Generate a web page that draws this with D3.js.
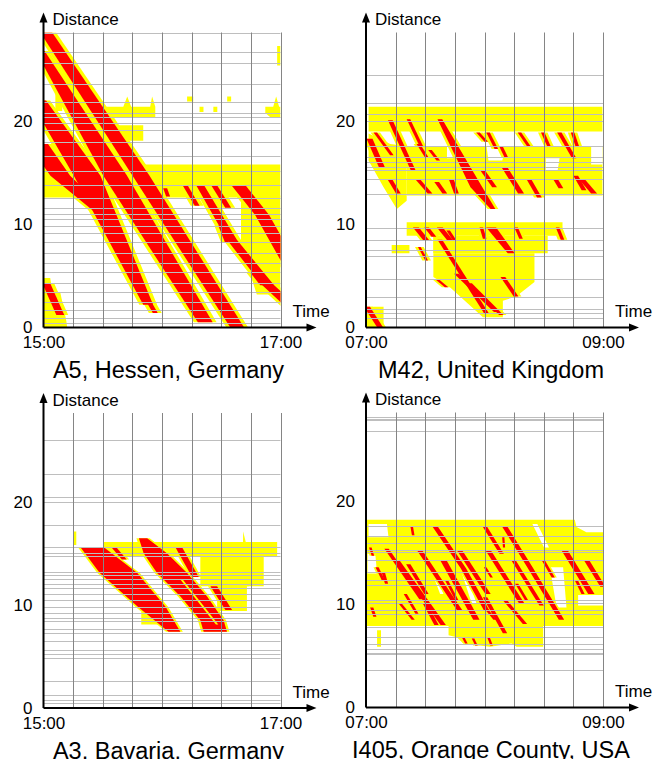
<!DOCTYPE html>
<html>
<head>
<meta charset="utf-8">
<script src="https://cdn.jsdelivr.net/npm/d3@7"></script>
<style>
  body { margin: 0; background: #fff; }
  svg { display: block; }
  text { font-family: "Liberation Sans", Arial, Helvetica, sans-serif; }
</style>
</head>
<body>
<svg id="chart" width="655" height="759"></svg>
<script>
// Space-time diagrams of congestion on four motorway stretches.
// Time in minutes after the start label, distance in km.
// Yellow = synchronized (slow) traffic, red = wide moving jams.

const panelTitles = ["A5, Hessen, Germany", "M42, United Kingdom", "A3, Bavaria, Germany", "I405, Orange County, USA"];
const startLabels = ["15:00", "07:00", "15:00", "07:00"];
const endLabels = ["17:00", "09:00", "17:00", "09:00"];
const distanceTicks = [0, 10, 20];
const gridMinutes = [15, 30, 45, 60, 75, 90, 105, 120];

// Detector positions (km) – horizontal grid lines
const a5Detectors = [28.6, 26.7, 25.6, 23.6, 21.9, 20.75, 20.4, 19.8, 19.1, 18.0, 16.6, 15.2, 13.8, 12.6, 11.6, 11.0, 10.5, 9.8, 9.2, 8.3, 7.2, 6.3, 5.4, 4.3, 3.4, 2.5, 1.7, 0.9, 0.4];
const m42Detectors = [24.5, 21.8, 20.7, 20.0, 17.6, 16.5, 16.0, 15.6, 15.3, 14.4, 12.9, 9.6, 8.5, 7.5, 6.9, 4.7, 3.0, 1.8, 1.4, 0.9];
const a3Detectors = [26.0, 22.7, 20.5, 20.0, 17.7, 15.6, 15.0, 14.7, 13.2, 12.9, 12.5, 12.0, 11.6, 11.1, 10.5, 9.8, 9.2, 8.7, 8.4, 7.7, 7.3, 6.5, 5.6, 5.2, 4.8, 2.6, 1.3, 0.8, 0.5];
const i405Detectors = [28.2, 28.0, 27.9, 26.8, 17.6, 16.6, 15.9, 15.3, 15.1, 14.3, 13.1, 12.4, 11.9, 10.4, 10.1, 9.5, 9.1, 7.8, 6.8, 6.2, 5.7, 5.3, 5.2, 3.6];

// Synchronized-flow regions: polygons of [minute, km]
const a5Congested = [
  [[0, 12.6], [120, 12.6], [120, 15.8], [0, 15.8]],
  [[100, 12.8], [120, 12.8], [120, 3.2], [108, 3.2], [100, 8]],
  [[28.7, 20.3], [28.7, 21.4], [40.4, 21.4], [42.4, 22.4], [44.4, 21.4], [54, 21.4], [55, 22.4], [56.6, 21.4], [56.6, 20.3]],
  [[72.7, 21.9], [75.8, 21.9], [75.8, 22.4], [72.7, 22.4]],
  [[79, 20.9], [81, 20.9], [81, 21.4], [79, 21.4]],
  [[86, 20.9], [88, 20.9], [88, 21.4], [86, 21.4]],
  [[93, 21.9], [95, 21.9], [95, 22.4], [93, 22.4]],
  [[112.3, 21.4], [116.3, 21.4], [117.8, 22.4], [119.3, 21.4], [120, 21.4], [120, 20.3], [115.3, 20.3], [112.3, 20.8]],
  [[23.7, 18.1], [50.5, 18.1], [50.5, 19.6], [23.7, 19.6]],
  [[118.3, 25.4], [120, 25.4], [120, 27.3], [118.3, 27.3]],
  [[0, 4.8], [3.4, 4.8], [4.4, 3.6], [8.5, 3.4], [11.5, 0.7], [12, 0], [0, 0]],
  [[6, 21], [9.5, 21], [9.5, 23.4], [6, 23.4]]
];
const m42Congested = [
  [[1.3, 19.0], [119.7, 19.0], [119.7, 21.4], [1.3, 21.4]],
  [[20.6, 12.8], [119.7, 12.8], [119.7, 17.6], [20.6, 17.6]],
  [[1.3, 18.8], [12.3, 17.8], [20.6, 17.6], [20.6, 12.3], [15.6, 11.5], [8.9, 13.6], [1.3, 16.2]],
  [[20.6, 8.9], [99.5, 8.9], [99.5, 10.2], [20.6, 10.2]],
  [[34, 7.2], [92, 7.2], [92, 8.9], [34, 8.9]],
  [[34.1, 7.2], [85.3, 7.2], [85.3, 4.4], [76, 3.0], [69.3, 2.6], [69.3, 1.0], [59.2, 1.0], [42.5, 3.9], [34.1, 4.9]],
  [[0, 0], [8.9, 0], [8.9, 2.0], [0, 2.0]],
  [[13, 7.2], [22, 7.2], [22, 8.0], [13, 8.0]]
];
const a3Congested = [
  [[30.4, 14.7], [118.3, 14.7], [118.3, 16.1], [30.4, 16.1]],
  [[79.4, 11.8], [111.5, 11.8], [111.5, 14.7], [79.4, 14.7]],
  [[101.1, 17.1], [103, 15.6], [104, 11.8], [100.6, 11.8]],
  [[87.9, 9.4], [103, 9.4], [103, 12.4], [87.9, 12.4]],
  [[15.2, 15.8], [16.6, 15.8], [16.6, 17.1], [15.2, 17.1]],
  [[49.5, 8.1], [58, 8.1], [58, 9.3], [49.5, 9.3]]
];
const i405Congested = [
  [[0.5, 18.2], [105.7, 18.2], [106.6, 17.5], [111.6, 17.0], [120, 17.0], [120, 7.9], [0.5, 7.9]],
  [[41.8, 7.9], [89.7, 7.9], [89.7, 5.9], [76.3, 5.9], [73.7, 6.2], [62.8, 5.9], [49.3, 6.2], [46.0, 6.8], [41.8, 7.0]],
  [[5.6, 5.9], [7.6, 5.9], [7.6, 7.5], [5.6, 7.5]]
];

// Free-flow pockets inside congested blocks
const m42Clear = [
  [[62, 16.2], [69, 16.2], [71, 17.6], [61, 17.6]],
  [[91, 15.2], [97, 15.2], [98, 16.4], [91, 16.4]],
  [[114, 15.8], [119.7, 15.8], [119.7, 17.6], [114, 17.6]],
  [[41, 16.4], [44, 16.4], [44, 17.6], [41, 17.6]]
];
const i405Clear = [
  [[93.1, 13.6], [99.8, 13.6], [101.5, 9.7], [96.5, 9.7]],
  [[0.8, 14.9], [4.7, 14.9], [5.6, 13.0], [0.8, 13.0]],
  [[1.3, 17.8], [10.6, 17.8], [11.4, 16.5], [1.3, 16.5]],
  [[107.4, 10.9], [120, 10.9], [120, 9.9], [107.4, 9.9]]
];
const i405ClearBands = [
  [[47.1, 14.6, 2.4], [54.7, 10.1, 2.4]],
  [[33.3, 13.6, 1.7], [38.4, 11.0, 1.7]],
  [[85.5, 17.8, 2.5], [91.4, 15.5, 2.5]]
];

// Wide moving jams: centre line points [minute, km, duration in minutes]
const a5Jams = [
  [[1.4, 28.6, 6], [49.4, 14.7, 8.6], [98.1, 0, 7]],
  [[-1.7, 26.8, 4.5], [36.3, 14.7, 12], [81.9, 0.5, 7.5]],
  [[-2.7, 22.0, 8], [22.1, 14.7, 13.5], [53.0, 2.2, 5]],
  [[-2.7, 17.8, 10], [8.5, 14.7, 10], [32.8, 10.6, 6]],
  [[32.3, 9.6, 2.5], [43.9, 5.7, 2.5], [56.6, 1.4, 2.5]],
  [[1.4, 4.3, 4], [8.5, 1.2, 4]],
  [[20.1, 20.1, 2.5], [23.6, 18.5, 2.5]],
  [[98.7, 13.8, 7.1], [110.7, 10.9, 7.1], [126, 5.7, 7.1]],
  [[79.3, 13.8, 4], [95.4, 8.5, 5], [113.8, 4.1, 6], [125, 2.1, 6]],
  [[86.4, 13.8, 3], [93.5, 11.6, 3]],
  [[71.7, 13.8, 2.5], [77.8, 11.8, 2.5]],
  [[61.6, 13.5, 2], [63.1, 12.7, 2]],
  [[106, 5.3, 2.5], [111, 4.1, 2.5]],
  [[89.5, 9.9, 2], [93, 8.2, 2]]
];
const m42Jams = [
  [[1.8, 18.3, 3], [8.1, 15.5, 3]],
  [[4.7, 18.9, 1.8], [13.1, 16.7, 1.8]],
  [[12.3, 20.1, 2.4], [24.0, 15.2, 2.4]],
  [[21.5, 20.2, 1.8], [28.2, 17.5, 1.8]],
  [[37.4, 20.2, 2.4], [55.9, 13.6, 6], [64.3, 11.5, 2.4]],
  [[56.7, 18.9, 1.8], [60.9, 18.0, 1.8]],
  [[61.8, 18.9, 1.8], [66.0, 17.3, 1.8]],
  [[77.7, 18.9, 1.8], [82.7, 17.5, 1.8]],
  [[89.5, 18.9, 1.8], [92.8, 17.5, 1.8]],
  [[97.9, 18.9, 2.2], [105.4, 16.4, 2.2]],
  [[104.6, 18.9, 1.8], [107.1, 17.5, 1.8]],
  [[12.3, 14.3, 2.4], [16.4, 13.0, 2.4]],
  [[26.5, 14.3, 2.4], [32.4, 13.0, 2.4]],
  [[35.8, 14.1, 2.4], [39.9, 13.0, 2.4]],
  [[43.3, 14.3, 2.4], [45.8, 13.0, 2.4]],
  [[59.2, 15.2, 2.4], [65.1, 13.6, 2.4]],
  [[70.2, 15.5, 3], [78.5, 13.0, 3]],
  [[82.7, 14.3, 2.4], [87.8, 12.6, 2.4]],
  [[96.2, 14.3, 2.4], [98.7, 13.5, 2.4]],
  [[106.2, 14.7, 2.4], [110.4, 13.3, 2.4]],
  [[109.6, 14.3, 3], [115.5, 13.0, 3]],
  [[68.5, 17.5, 1.8], [71.0, 16.5, 1.8]],
  [[26.5, 17.8, 1.8], [30.7, 16.5, 1.8]],
  [[32.4, 17.2, 1.8], [36.6, 16.2, 1.8]],
  [[25.3, 9.7, 3], [30.7, 8.4, 3]],
  [[30.7, 9.7, 2.4], [34.4, 8.8, 2.4]],
  [[37.4, 9.7, 3], [42.8, 8.4, 3]],
  [[41.6, 9.4, 1.8], [45.0, 8.4, 1.8]],
  [[27.0, 7.8, 1.4], [30.7, 6.5, 1.4]],
  [[37.4, 8.5, 2.4], [60.9, 1.4, 2.4]],
  [[45.8, 5.2, 2.4], [66.0, 1.5, 2.4]],
  [[52.5, 4.3, 2.2], [68.5, 1.2, 2.2]],
  [[35.8, 4.7, 1.8], [40.8, 3.9, 1.8]],
  [[58.4, 9.7, 1.8], [60.1, 8.6, 1.8]],
  [[63.4, 9.7, 5], [73.5, 7.2, 3.5]],
  [[76.0, 9.7, 1.8], [78.5, 8.6, 1.8]],
  [[97.0, 9.7, 1.8], [99.5, 8.5, 1.8]],
  [[69.3, 4.9, 2.4], [76.0, 3.0, 2.4]],
  [[0.5, 2.0, 3], [7.2, 0, 3]]
];
const a3Jams = [
  [[24.5, 15.6, 11.8], [38.0, 13.1, 19], [54.9, 9.8, 14], [66.3, 7.4, 6]],
  [[50.4, 16.45, 4.2], [56.6, 15.0, 11.8], [65.1, 13.1, 15.2], [76.1, 10.8, 13.5], [85.3, 8.5, 11.8], [87.0, 7.4, 11.8]],
  [[35.5, 15.6, 2.5], [40.9, 14.4, 2.5]],
  [[68.4, 15.6, 3.4], [76.9, 12.7, 3.4]],
  [[86.2, 11.8, 3.4], [93.8, 9.5, 3.4]]
];
// Thin synchronized seam splitting the second A3 jam
const a3Seams = [
  [[70.1, 12.4, 1.2], [87.9, 8.1, 1.2]]
];
const i405Jams = [
  [[10.4, 15.4, 2.2], [28.1, 10.5, 2.2]],
  [[15.5, 14.3, 2.7], [39.1, 8.0, 2.7]],
  [[21.4, 13.9, 2.2], [30.6, 11.0, 2.2]],
  [[27.3, 15.2, 2.7], [47.5, 9.4, 2.7]],
  [[34.8, 17.6, 2.7], [49.3, 13.5, 2.7], [61.1, 9.4, 2.7]],
  [[39.1, 14.3, 3.2], [55.9, 8.5, 3.2]],
  [[47.5, 15.2, 2.7], [61.8, 11.0, 2.7]],
  [[60.3, 17.5, 2.2], [68.7, 14.9, 2.2]],
  [[70.4, 17.5, 2.7], [83.0, 13.6, 2.7], [99.0, 8.5, 2.7]],
  [[62.0, 15.2, 2.7], [78.8, 10.1, 2.7]],
  [[74.6, 14.3, 2.2], [88.9, 9.9, 2.2]],
  [[60.3, 10.7, 2.2], [70.4, 7.2, 2.2]],
  [[70.4, 10.4, 2.2], [80.5, 8.1, 2.2]],
  [[89.7, 14.3, 1.6], [94.8, 12.6, 1.6]],
  [[100.7, 15.2, 3.2], [114.1, 11.0, 3.2]],
  [[111.6, 14.3, 2.7], [120.0, 11.7, 2.7]],
  [[8.8, 13.1, 1.6], [10.4, 12.0, 1.6]],
  [[2.9, 9.7, 1.6], [4.5, 8.8, 1.6]],
  [[17.2, 10.1, 1.6], [23.9, 8.5, 1.6]],
  [[23.1, 17.6, 1.3], [23.9, 16.7, 1.3]],
  [[49.2, 6.8, 1.3], [50.8, 6.2, 1.3]],
  [[54.2, 6.7, 1.3], [55.9, 6.0, 1.3]],
  [[62.0, 6.8, 1.3], [63.6, 6.0, 1.3]],
  [[29.8, 10.1, 2.2], [35.7, 8.0, 2.2]],
  [[69.5, 16.5, 1.1], [69.9, 15.5, 1.1]],
  [[60.3, 13.6, 1.3], [63.6, 12.6, 1.3]],
  [[60.3, 9.7, 1.6], [65.3, 8.5, 1.6]],
  [[2.2, 15.5, 1.3], [3.5, 14.7, 1.3]],
  [[5.6, 13.6, 1.6], [8.9, 12.3, 1.6]],
  [[19.9, 11.0, 1.6], [25.8, 9.1, 1.6]],
  [[40.9, 12.3, 1.6], [46.0, 10.4, 1.6]],
  [[76.3, 12.0, 1.6], [81.3, 10.4, 1.6]],
  [[106.6, 12.3, 1.6], [109.9, 11.0, 1.6]]
];

const panels = [
  { title: panelTitles[0], start: startLabels[0], end: endLabels[0], detectors: a5Detectors,
    congested: a5Congested, clear: [], clearBands: [], jams: a5Jams, seams: [] },
  { title: panelTitles[1], start: startLabels[1], end: endLabels[1], detectors: m42Detectors,
    congested: m42Congested, clear: m42Clear, clearBands: [], jams: m42Jams, seams: [] },
  { title: panelTitles[2], start: startLabels[2], end: endLabels[2], detectors: a3Detectors,
    congested: a3Congested, clear: [], clearBands: [], jams: a3Jams, seams: a3Seams },
  { title: panelTitles[3], start: startLabels[3], end: endLabels[3], detectors: i405Detectors,
    congested: i405Congested, clear: i405Clear, clearBands: i405ClearBands, jams: i405Jams, seams: [] }
];

const YELLOW = "#ffff00", RED = "#ff0000";
const W = 237, H = 295;
const frames = [
  { ox: 43.5, oy: 327.5 }, { ox: 366, oy: 327.5 },
  { ox: 43.5, oy: 708 }, { ox: 366, oy: 707.5 }
];
const halo = [4, 3, 2.5, 2]; // yellow fringe around each jam, minutes

const svg = d3.select("#chart");

panels.forEach((p, i) => {
  const { ox, oy } = frames[i];
  const x = d3.scaleLinear().domain([0, 120]).range([ox, ox + W]);
  const y = d3.scaleLinear().domain([0, 28.6]).range([oy, oy - H]);
  const g = svg.append("g");

  const clipId = "plot-clip-" + i;
  g.append("clipPath").attr("id", clipId)
    .append("rect").attr("x", ox).attr("y", oy - H).attr("width", W).attr("height", H);
  const area = g.append("g").attr("clip-path", `url(#${clipId})`);

  const poly = pts => "M" + pts.map(([t, d]) => x(t) + "," + y(d)).join("L") + "Z";
  const band = (s, extra) => {
    const left = s.map(([t, d, w]) => [t - (w + extra) / 2, d]);
    const right = s.slice().reverse().map(([t, d, w]) => [t + (w + extra) / 2, d]);
    return poly(left.concat(right));
  };

  area.selectAll(null).data(p.congested).join("path").attr("d", d => poly(d)).attr("fill", YELLOW);
  area.selectAll(null).data(p.clear).join("path").attr("d", d => poly(d)).attr("fill", "#fff");
  area.selectAll(null).data(p.clearBands).join("path").attr("d", d => band(d, 0)).attr("fill", "#fff");
  area.selectAll(null).data(p.jams).join("path").attr("d", d => band(d, halo[i])).attr("fill", YELLOW);
  area.selectAll(null).data(p.jams).join("path").attr("d", d => band(d, 0)).attr("fill", RED);
  area.selectAll(null).data(p.seams).join("path").attr("d", d => band(d, 0)).attr("fill", YELLOW);

  // detector lines and quarter-hour lines
  g.selectAll(null).data(p.detectors).join("line")
    .attr("x1", x(0)).attr("x2", x(120))
    .attr("y1", d => Math.round(y(d)) + 0.5).attr("y2", d => Math.round(y(d)) + 0.5)
    .attr("stroke", "#bebebe").attr("stroke-width", 1);
  g.selectAll(null).data(gridMinutes).join("line")
    .attr("x1", d => Math.round(x(d)) + 0.5).attr("x2", d => Math.round(x(d)) + 0.5)
    .attr("y1", y(0)).attr("y2", y(28.6))
    .attr("stroke", "#858585").attr("stroke-width", 1);

  // tick labels
  const yAxis = g.append("g").attr("transform", `translate(${ox},0)`)
    .call(d3.axisLeft(y).tickValues(distanceTicks).tickSize(0).tickPadding(11).tickFormat(d3.format("d")));
  yAxis.select(".domain").remove();
  yAxis.attr("font-family", null).attr("font-size", 17).selectAll("text").attr("fill", "#000");

  const tLabels = [p.start, p.end];
  const xAxis = g.append("g").attr("transform", `translate(0,${oy})`)
    .call(d3.axisBottom(x).tickValues([0, 120]).tickSize(0).tickPadding(8.5).tickFormat((d, k) => tLabels[k]));
  xAxis.select(".domain").remove();
  xAxis.attr("font-family", null).attr("font-size", 17).selectAll("text").attr("fill", "#000");

  // axis lines with arrowheads
  g.append("path")
    .attr("d", `M${ox},${oy} L${ox},${oy - 306} M${ox},${oy} L${ox + 264},${oy}`)
    .attr("stroke", "#000").attr("stroke-width", 2).attr("fill", "none");
  g.append("path")
    .attr("d", `M${ox},${oy - 315} L${ox - 4},${oy - 305} L${ox + 4},${oy - 305} Z`)
    .attr("fill", "#000");
  g.append("path")
    .attr("d", `M${ox + 273},${oy} L${ox + 263},${oy - 4} L${ox + 263},${oy + 4} Z`)
    .attr("fill", "#000");

  g.append("text").attr("x", ox + 9).attr("y", oy - 302.5)
    .attr("font-size", 17).text("Distance");
  g.append("text").attr("x", ox + 249).attr("y", oy - 10.5)
    .attr("font-size", 17).text("Time");
  g.append("text").attr("x", ox + 125).attr("y", oy + 50.5)
    .attr("text-anchor", "middle").attr("font-size", 23.5).text(p.title);
});
</script>
</body>
</html>
